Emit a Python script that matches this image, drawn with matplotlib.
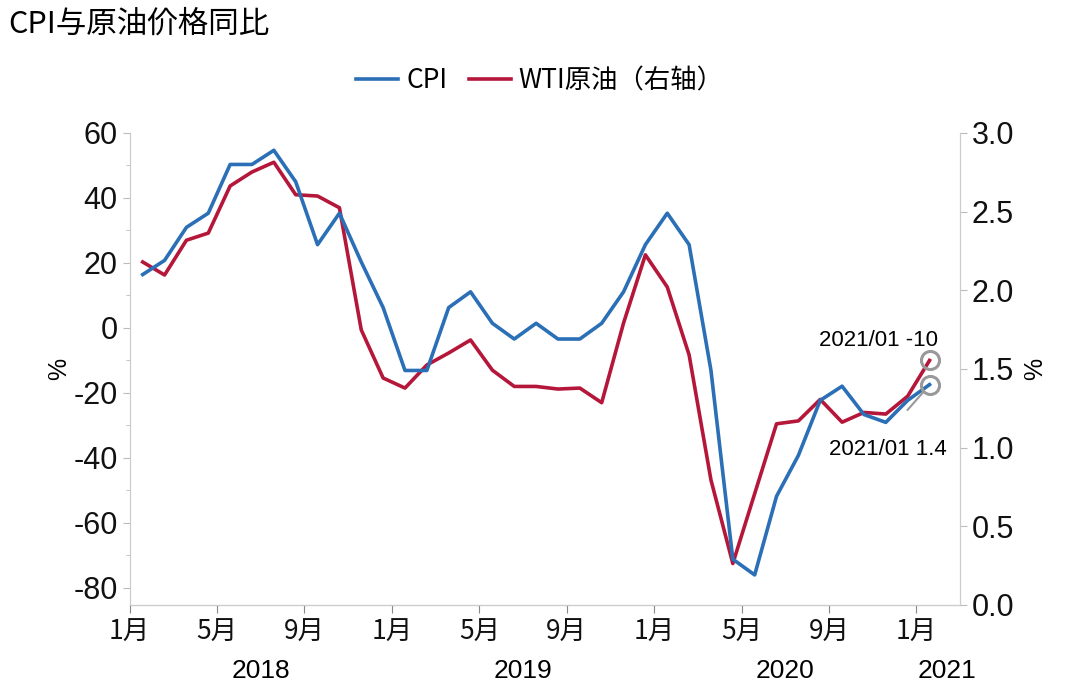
import matplotlib.pyplot as plt
from matplotlib import font_manager as fm

cjk = "Noto Sans CJK SC"
names = sorted({f.name for f in fm.fontManager.ttflist if "CJK" in f.name})
if names and cjk not in names:
    cjk = names[0]
plt.rcParams["font.family"] = ["Liberation Sans", cjk]
plt.rcParams["axes.unicode_minus"] = False

# monthly, 2018-01 .. 2021-01
wti = [20.3, 16.3, 27, 29.2, 43.7, 48, 51, 41, 40.6, 37, -0.6, -15.4,
       -18.5, -11.4, -7.7, -3.7, -13, -18, -18, -18.8, -18.5, -23, 1.5, 22.5,
       12.6, -8.3, -46.8, -72.5, -51, -29.5, -28.6, -22, -29, -26, -26.5, -21, -10]
cpi = [2.10, 2.19, 2.40, 2.49, 2.80, 2.80, 2.89, 2.69, 2.29, 2.49, 2.18, 1.89,
       1.49, 1.49, 1.89, 1.99, 1.79, 1.69, 1.79, 1.69, 1.69, 1.79, 1.99, 2.29,
       2.49, 2.29, 1.49, 0.29, 0.19, 0.69, 0.95, 1.30, 1.39, 1.21, 1.16, 1.30, 1.40]
month_labels = ["1月", "5月", "9月"] * 3 + ["1月"]
month_ticks = [0, 4, 8, 12, 16, 20, 24, 28, 32, 36]
years = ["2018", "2019", "2020", "2021"]
year_pos = [6, 18, 30, 37.4]

blue = "#2b6fb6"
red = "#b5173a"
x = [i + 0.6 for i in range(len(wti))]

fig = plt.figure(figsize=(10.8, 7.0), dpi=100)
ax = fig.add_axes([0.120, 0.136, 0.769, 0.674])
ax2 = ax.twinx()

ax.plot(x, wti, color=red, lw=2.6, zorder=3)
ax2.plot(x, cpi, color=blue, lw=2.6, zorder=3)

ax.set_xlim(0, 38)
ax.set_ylim(-85.2, 60)
ax.set_yticks(range(-80, 61, 20))
ax.set_yticks(range(-80, 61, 10), minor=True)
ax2.set_ylim(0, 3.0)
ax2.set_yticks([0, 0.5, 1.0, 1.5, 2.0, 2.5, 3.0])
ax2.set_yticklabels(["0.0", "0.5", "1.0", "1.5", "2.0", "2.5", "3.0"])

ax.set_xticks(month_ticks)
ax.set_xticklabels(month_labels, fontsize=19, fontfamily=cjk)
for xp, yr in zip(year_pos, years):
    ax.text(xp, -0.115, yr, transform=ax.get_xaxis_transform(), ha="center",
            va="top", fontsize=19)

for a in (ax, ax2):
    a.tick_params(axis="y", labelsize=22, colors="#bbbbbb", labelcolor="#111111", length=5)
    for s in a.spines.values():
        s.set_color("#cccccc")
    a.spines["top"].set_visible(False)
ax.tick_params(axis="y", which="minor", length=3, colors="#bbbbbb")
ax.tick_params(axis="x", colors="#888888", labelcolor="#111111", length=6, pad=4)
ax.spines["bottom"].set_color("#888888")

ax.set_ylabel("%", fontsize=18, labelpad=2)
ax2.set_ylabel("%", fontsize=18, labelpad=6)

# end-point markers and labels
ax.plot(x[-1], wti[-1], "o", ms=13, mfc="none", mec="#999999", mew=2.2, zorder=4)
ax2.plot(x[-1], cpi[-1], "o", ms=13, mfc="none", mec="#999999", mew=2.2, zorder=4)
ax.text(x[-1] + 0.4, wti[-1] + 6, "2021/01 -10", ha="right", va="center", fontsize=16)
ax2.text(x[-1] + 0.8, cpi[-1] - 0.41, "2021/01 1.4", ha="right", va="center", fontsize=16)
ax2.plot([x[-1] - 1.0, x[-1] - 0.3], [cpi[-1] - 0.16, cpi[-1] - 0.05], color="#999999", lw=1.5, zorder=4)

fig.text(0.008, 0.965, "CPI与原油价格同比", fontsize=22, fontfamily=cjk,
         ha="left", va="center")
h1, = ax.plot([], [], color=blue, lw=2.6)
h2, = ax.plot([], [], color=red, lw=2.6)
fig.legend([h1, h2], ["CPI", "WTI原油（右轴）"], loc="center", bbox_to_anchor=(0.5, 0.885),
           ncol=2, frameon=False, prop={"family": cjk, "size": 19},
           handlelength=1.6, columnspacing=0.8, handletextpad=0.3)

fig.savefig("out.png", dpi=100)
